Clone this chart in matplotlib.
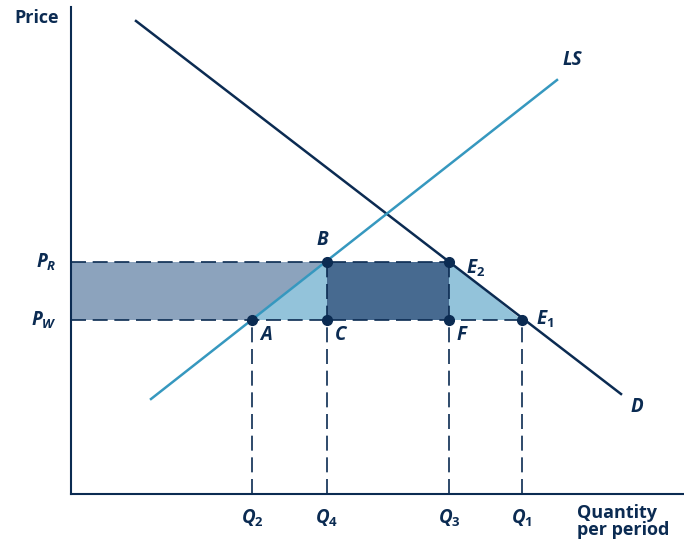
import matplotlib
matplotlib.use("Agg")
import matplotlib.pyplot as plt

# chart units: x = quantity, y = price (arbitrary scale)
q_labels = ["$Q_2$", "$Q_4$", "$Q_3$", "$Q_1$"]
q_values = [181, 256, 378, 451]          # Q2, Q4, Q3, Q1
p_labels = ["$P_R$", "$P_W$"]
p_values = [232, 174]                    # PR, PW

demand_x = [65, 550]
demand_y = [473, 100]
supply_x = [80, 486]
supply_y = [95, 414]

navy = "#0b2b52"
teal = "#3698bf"

q2, q4, q3, q1 = q_values
pr, pw = p_values

plt.rcParams["font.family"] = ["Open Sans", "DejaVu Sans"]
plt.rcParams["mathtext.fontset"] = "custom"
plt.rcParams["mathtext.it"] = "Open Sans:bold:italic"
plt.rcParams["mathtext.rm"] = "Open Sans:bold"
plt.rcParams["mathtext.bf"] = "Open Sans:bold"

fig = plt.figure(figsize=(6.84, 5.5), dpi=100)
ax = fig.add_axes([71 / 684, 56 / 550, 613 / 684, 487 / 550])
ax.set_xlim(0, 613)
ax.set_ylim(0, 487)

# shaded areas
ax.fill([0, q4, q2, 0], [pr, pr, pw, pw], color="#8ca3bd", lw=0)
ax.fill([q2, q4, q4], [pw, pr, pw], color="#93c3da", lw=0)
ax.fill([q4, q3, q3, q4], [pr, pr, pw, pw], color="#476a90", lw=0)
ax.fill([q3, q3, q1], [pr, pw, pw], color="#93c3da", lw=0)

# dashed guide lines
dash = dict(color=navy, lw=1.2, ls=(0, (9, 4)))
ax.plot([0, q3], [pr, pr], **dash)
ax.plot([0, q1], [pw, pw], **dash)
for q, top in zip(q_values, [pw, pr, pr, pw]):
    ax.plot([q, q], [0, top], **dash)

# curves
ax.plot(demand_x, demand_y, color=navy, lw=1.8)
ax.plot(supply_x, supply_y, color=teal, lw=1.8)

# points
pts_x = [q2, q4, q4, q3, q3, q1]
pts_y = [pw, pr, pw, pr, pw, pw]
ax.plot(pts_x, pts_y, "o", color=navy, ms=7, zorder=5)

lab = dict(color=navy, fontsize=13.5, fontweight="bold", fontstyle="italic")
ax.text(q4 - 5, pr + 12, "B", ha="center", va="bottom", **lab)
ax.text(q2 + 8, pw - 5, "A", ha="left", va="top", **lab)
ax.text(q4 + 8, pw - 5, "C", ha="left", va="top", **lab)
ax.text(q3 + 8, pw - 5, "F", ha="left", va="top", **lab)
ax.text(q3 + 17, pr - 6, "$E_2$", ha="left", va="center", **lab)
ax.text(q1 + 14, pw + 1, "$E_1$", ha="left", va="center", **lab)
ax.text(501, 434, "LS", ha="center", va="center", **lab)
ax.text(566, 87, "D", ha="center", va="center", **lab)

for q, t in zip(q_values, q_labels):
    ax.text(q, -14, t, ha="center", va="top", clip_on=False, **lab)
for p, t in zip(p_values, p_labels):
    ax.text(-14, p, t, ha="right", va="center", clip_on=False, **lab)

ax.text(506, -10, "Quantity\nper period", ha="left", va="top", color=navy,
        fontsize=13, fontweight="bold", linespacing=0.95, clip_on=False)
ax.text(-57, 476, "Price", ha="left", va="center", color=navy,
        fontsize=13, fontweight="bold", clip_on=False)

ax.set_xticks([])
ax.set_yticks([])
for s in ["top", "right"]:
    ax.spines[s].set_visible(False)
for s in ["left", "bottom"]:
    ax.spines[s].set_color(navy)
    ax.spines[s].set_linewidth(1.5)

fig.savefig("out.png", dpi=100)
